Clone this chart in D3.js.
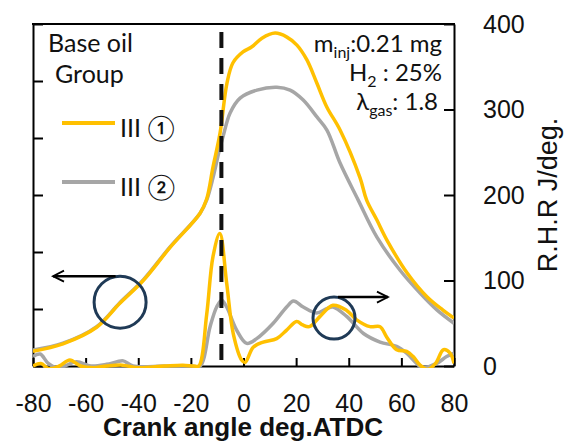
<!DOCTYPE html>
<html>
<head>
<meta charset="utf-8">
<script src="https://cdn.jsdelivr.net/npm/d3@7"></script>
<style>
  body { margin: 0; background: #fff; }
  svg { display: block; }
</style>
</head>
<body>
<script>
// crank angle ticks and axis values
var angleTicks    = [-80, -60, -40, -20, 0, 20, 40, 60, 80];
var pressureTicks = [0, 1, 2, 3, 4, 5, 6];          // left axis, unlabeled
var rhrTicks      = [0, 100, 200, 300, 400];

var seriesNames  = ["III \u2460", "III \u2461"];
var seriesColors = ["#FFC000", "#A6A6A6"];

// cylinder pressure (left axis units) [crank angle, value]
var pressureIII1 = [[-80,0.26],[-68.6,0.39],[-55.8,0.68],[-47,1.10],[-38.1,1.50],[-27.9,2.08],[-16.5,2.68],
  [-14,2.93],[-11.6,3.49],[-8.9,4.09],[-6.3,4.96],[-4,5.32],[-0.2,5.51],[3.2,5.60],[7,5.75],[12,5.84],
  [16.5,5.77],[20.3,5.63],[24.1,5.37],[27.9,4.96],[31.7,4.54],[36.7,4.14],[44.3,3.30],[46.8,2.91],
  [50.7,2.56],[54.5,2.21],[62.2,1.63],[69.8,1.21],[75.8,0.98],[80,0.84]];
var pressureIII2 = [[-80,0.28],[-68.6,0.40],[-55.8,0.69],[-47,1.11],[-38.1,1.51],[-27.9,2.09],[-16.5,2.68],
  [-14,2.91],[-11.6,3.30],[-8.9,3.84],[-7.8,4.02],[-5.1,4.44],[-1.3,4.70],[5.1,4.84],[12.7,4.89],
  [17.7,4.84],[22.6,4.67],[27.9,4.37],[31.7,4.14],[36.7,3.56],[43.6,2.91],[50.7,2.26],[59.5,1.68],
  [67.1,1.28],[73.6,0.98],[80,0.75]];

// rate of heat release J/deg (right axis) [crank angle, value]
var rhrIII1 = [[-80,0],[-77,3],[-74,-3],[-70,0],[-66,7],[-62,0],[-57,-2],[-52,0],[-46,1],[-40,-2],[-30,0],
  [-23,1],[-19,0],[-17,0],[-14,60],[-11.6,128],[-9,155],[-6.4,97],[-3.9,38],[-0.7,7],[0.6,4],[3.7,22],
  [7.5,28],[12.6,32],[16.4,42],[20.2,52],[22.5,48],[25,46],[29.1,58],[34,71],[39.2,65],[43,54],[48.1,46],
  [51.9,46],[54.4,34],[58.2,19],[62,17],[64.5,11],[67.1,1],[70,-4],[73,3],[76,19],[78.5,15],[80,3]];
var rhrIII2 = [[-80,11],[-77.3,14],[-74.2,3],[-71,-2],[-68,0],[-63.4,5],[-58,0],[-52,2],[-48,5],[-45.7,6],
  [-42,0],[-30,0],[-20,0],[-16.5,0],[-12.7,46],[-10.2,69],[-8.3,77],[-6.4,69],[-2.6,42],[1.2,26.5],[5,32],
  [11.3,50],[16.4,69],[19,76],[22.7,69],[27.8,62],[31.6,67],[34,69],[39.2,58],[45.6,38],[51.9,28],
  [58.2,23],[62,15],[65.8,3],[68,-2],[73.4,3],[77.2,11],[80,15]];

var markerAngle = -8.4;   // dashed vertical line

var width = 568, height = 443;
var plotLeft = 33, plotRight = 454, plotTop = 24, plotBottom = 366;

var svg = d3.select("body").append("svg")
    .attr("width", width)
    .attr("height", height);

var x  = d3.scaleLinear().domain([-80, 80]).range([plotLeft, plotRight]);
var yP = d3.scaleLinear().domain([0, 6]).range([plotBottom, plotTop]);
var yR = d3.scaleLinear().domain([0, 400]).range([plotBottom, plotTop]);

var tickFont = "'Liberation Sans', Arial, sans-serif";
var textFont = "Lato, 'Noto Sans CJK JP', sans-serif";

svg.append("defs").append("clipPath").attr("id", "plot-clip")
  .append("rect")
    .attr("x", plotLeft).attr("y", plotTop)
    .attr("width", plotRight - plotLeft).attr("height", plotBottom - plotTop + 2);

svg.select("defs").append("marker")
    .attr("id", "arrow")
    .attr("viewBox", "0 0 10 10")
    .attr("refX", 9).attr("refY", 5)
    .attr("markerWidth", 6).attr("markerHeight", 5.5)
    .attr("markerUnits", "strokeWidth")
    .attr("orient", "auto")
  .append("path")
    .attr("d", "M1,1 L9,5 L1,9")
    .attr("fill", "none")
    .attr("stroke", "#000")
    .attr("stroke-width", 1.3);

// axes
var styleAxis = function (g) {
    g.selectAll(".domain").attr("stroke", "#000").attr("stroke-width", 2);
    g.selectAll(".tick line").attr("stroke", "#000").attr("stroke-width", 2);
    g.selectAll("text")
      .attr("font-family", tickFont)
      .attr("font-size", 25)
      .attr("fill", "#111");
};
var plain = function (d) { return String(d); };  // hyphen minus, like the original

svg.append("g")
    .attr("transform", "translate(0," + plotBottom + ")")
    .call(d3.axisBottom(x).tickValues(angleTicks).tickFormat(plain)
            .tickSize(-8).tickSizeOuter(0).tickPadding(28))
    .call(styleAxis);

svg.append("g")
    .attr("transform", "translate(" + plotLeft + ",0)")
    .call(d3.axisLeft(yP).tickValues(pressureTicks).tickSize(-10).tickSizeOuter(0).tickFormat(""))
    .call(styleAxis);

svg.append("g")
    .attr("transform", "translate(" + plotRight + ",0)")
    .call(d3.axisRight(yR).tickValues(rhrTicks).tickFormat(plain)
            .tickSize(-10).tickSizeOuter(0).tickPadding(29))
    .call(styleAxis)
    .selectAll("text").attr("text-anchor", "start").attr("dy", "0.33em");

svg.append("line")
    .attr("x1", plotLeft - 1).attr("x2", plotRight + 1)
    .attr("y1", plotTop).attr("y2", plotTop)
    .attr("stroke", "#000").attr("stroke-width", 2);

// curves
var plot = svg.append("g").attr("clip-path", "url(#plot-clip)");

var pLine = d3.line()
    .x(function (d) { return x(d[0]); })
    .y(function (d) { return yP(d[1]); })
    .curve(d3.curveCatmullRom.alpha(0.5));

var rLine = d3.line()
    .x(function (d) { return x(d[0]); })
    .y(function (d) { return yR(d[1]); })
    .curve(d3.curveCatmullRom.alpha(0.5));

[[pressureIII2, pLine, 1], [pressureIII1, pLine, 0], [rhrIII2, rLine, 1], [rhrIII1, rLine, 0]]
  .forEach(function (s) {
      plot.append("path")
        .datum(s[0])
        .attr("d", s[1])
        .attr("fill", "none")
        .attr("stroke", seriesColors[s[2]])
        .attr("stroke-width", 3.5)
        .attr("stroke-linejoin", "round");
  });

svg.append("line")
    .attr("x1", x(markerAngle)).attr("x2", x(markerAngle))
    .attr("y1", plotTop + 8).attr("y2", plotBottom)
    .attr("stroke", "#111")
    .attr("stroke-width", 4)
    .attr("stroke-dasharray", "16,10");

// circles with arrows pointing to the axis each curve uses
var callouts = [
    { cx: -46.9, cy: yP(1.12), r: 26, from: -48.6, to: -72.4 },
    { cx: 34.4,  cy: yR(56),   r: 21, from: 35.9,  to: 54.9 }
];
callouts.forEach(function (c) {
    svg.append("circle")
      .attr("cx", x(c.cx)).attr("cy", c.cy).attr("r", c.r)
      .attr("fill", "none")
      .attr("stroke", "#1F3A56")
      .attr("stroke-width", 3);
    svg.append("line")
      .attr("x1", x(c.from)).attr("x2", x(c.to))
      .attr("y1", c.cy - c.r).attr("y2", c.cy - c.r)
      .attr("stroke", "#000")
      .attr("stroke-width", 2.5)
      .attr("marker-end", "url(#arrow)");
});

// legend
svg.append("text").attr("x", 48).attr("y", 52).text("Base oil");
svg.append("text").attr("x", 55).attr("y", 83).text("Group");
seriesNames.forEach(function (name, i) {
    var ly = 123 + i * 59;
    svg.append("line")
      .attr("x1", 62).attr("x2", 115)
      .attr("y1", ly).attr("y2", ly)
      .attr("stroke", seriesColors[i])
      .attr("stroke-width", 4);
    svg.append("text").attr("x", 120).attr("y", ly + 14).text(name);
});

// operating conditions
var cond = [
    { y: 52,  x: 442, parts: [["m", 0], ["inj", 1], [":0.21 mg", 0]] },
    { y: 81,  x: 442, parts: [["H", 0], ["2", 1], [" : 25%", 0]] },
    { y: 110, x: 438, parts: [["\u03bb", 0], ["gas", 1], [": 1.8", 0]] }
];
cond.forEach(function (c) {
    var t = svg.append("text")
      .attr("x", c.x).attr("y", c.y)
      .attr("text-anchor", "end");
    var shift = 0;
    c.parts.forEach(function (p) {
        var dy = p[1] ? 6 - shift : -shift;
        shift = p[1] ? 6 : 0;
        t.append("tspan")
          .attr("dy", dy)
          .attr("font-size", p[1] ? 16 : 24)
          .text(p[0]);
    });
});

svg.selectAll("svg > text")
    .attr("font-family", textFont)
    .attr("fill", "#111")
    .filter(function () { return !this.getAttribute("font-size"); })
    .attr("font-size", 25);

// axis titles
svg.append("text")
    .attr("x", 243).attr("y", 436)
    .attr("text-anchor", "middle")
    .attr("font-family", tickFont)
    .attr("font-weight", "bold")
    .attr("font-size", 26)
    .attr("textLength", 280)
    .attr("lengthAdjust", "spacingAndGlyphs")
    .attr("fill", "#111")
    .text("Crank angle deg.ATDC");

svg.append("text")
    .attr("transform", "translate(557,195) rotate(-90)")
    .attr("text-anchor", "middle")
    .attr("font-family", tickFont)
    .attr("font-size", 27)
    .attr("fill", "#111")
    .text("R.H.R J/deg.");
</script>
</body>
</html>
